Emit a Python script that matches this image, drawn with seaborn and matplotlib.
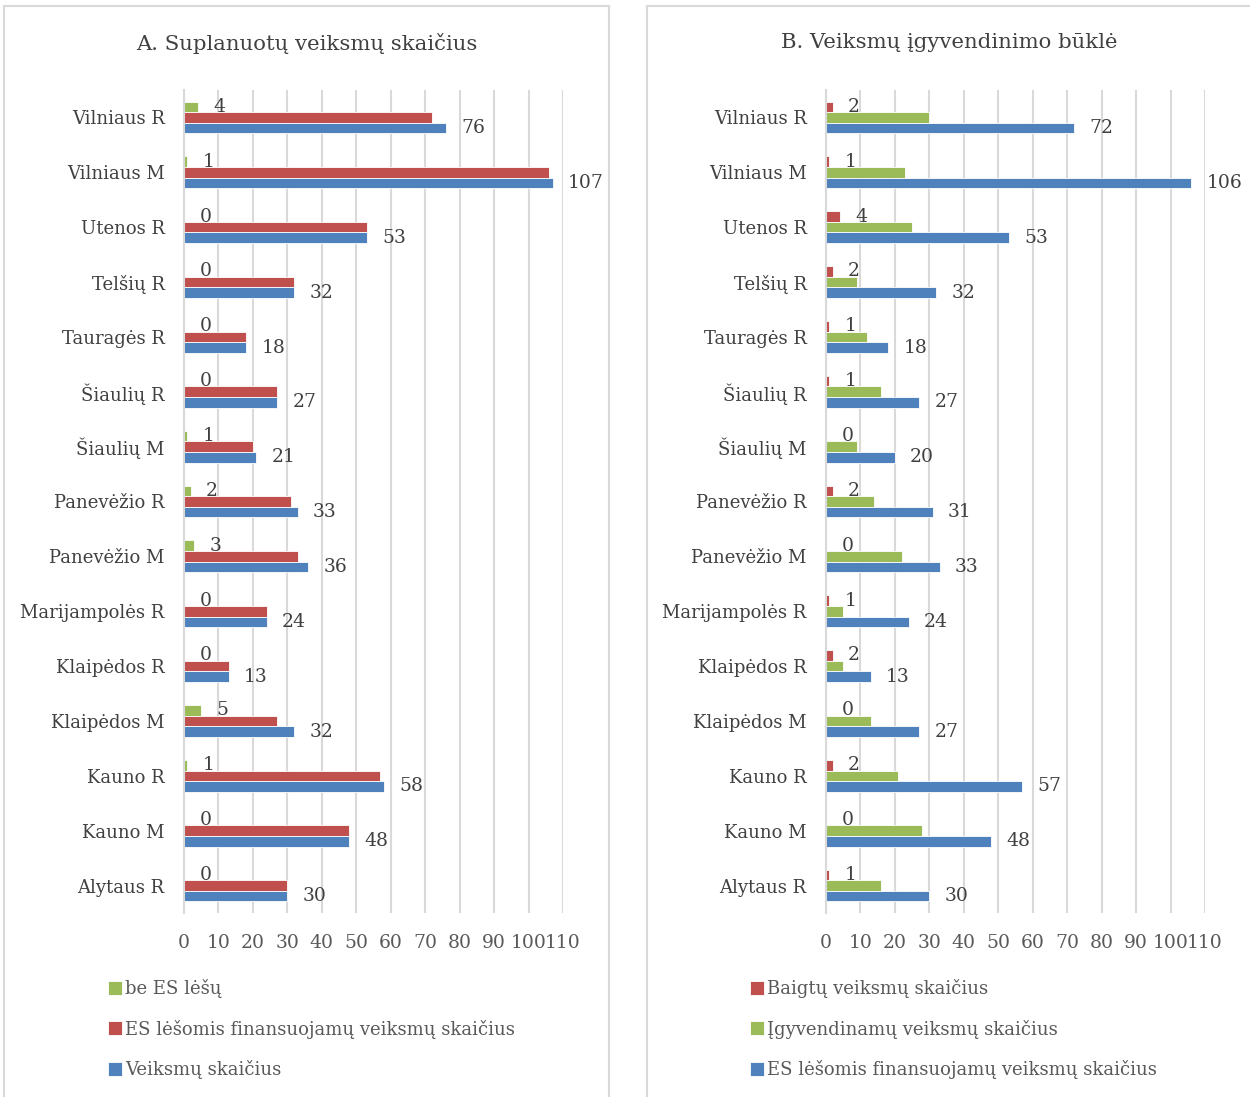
import matplotlib
matplotlib.use("Agg")
import matplotlib.pyplot as plt
import seaborn as sns
import pandas as pd
from matplotlib.patches import Rectangle

# ---- data ----
regions = ["Vilniaus R", "Vilniaus M", "Utenos R", "Telšių R", "Tauragės R",
           "Šiaulių R", "Šiaulių M", "Panevėžio R", "Panevėžio M",
           "Marijampolės R", "Klaipėdos R", "Klaipėdos M", "Kauno R",
           "Kauno M", "Alytaus R"]

# panel A
be_es = [4, 1, 0, 0, 0, 0, 1, 2, 3, 0, 0, 5, 1, 0, 0]
es_finans = [72, 106, 53, 32, 18, 27, 20, 31, 33, 24, 13, 27, 57, 48, 30]
veiksmu = [76, 107, 53, 32, 18, 27, 21, 33, 36, 24, 13, 32, 58, 48, 30]

# panel B
baigtu = [2, 1, 4, 2, 1, 1, 0, 2, 0, 1, 2, 0, 2, 0, 1]
igyvend = [30, 23, 25, 9, 12, 16, 9, 14, 22, 5, 5, 13, 21, 28, 16]
es_finans_b = [72, 106, 53, 32, 18, 27, 20, 31, 33, 24, 13, 27, 57, 48, 30]

series_a = ["be ES lėšų", "ES lėšomis finansuojamų veiksmų skaičius", "Veiksmų skaičius"]
series_b = ["Baigtų veiksmų skaičius", "Įgyvendinamų veiksmų skaičius",
            "ES lėšomis finansuojamų veiksmų skaičius"]
colors_a = ["#9BBB59", "#C0504D", "#4F81BD"]
colors_b = ["#C0504D", "#9BBB59", "#4F81BD"]
titles = ["A. Suplanuotų veiksmų skaičius", "B. Veiksmų įgyvendinimo būklė"]
xticks = list(range(0, 111, 10))

sns.set_theme(style="white")
plt.rcParams["font.family"] = ["DejaVu Serif", "DejaVu Sans"]

W, H = 1250, 1097
fig = plt.figure(figsize=(W / 100, H / 100), dpi=100)


def fx(px):
    return px / W


def fy(py):
    return 1 - py / H


def make_df(cols, names):
    rows = []
    for name, vals in zip(names, cols):
        for r, v in zip(regions, vals):
            rows.append({"region": r, "series": name, "value": v})
    return pd.DataFrame(rows)


panels = [
    dict(df=make_df([be_es, es_finans, veiksmu], series_a), names=series_a,
         colors=colors_a, box=4, left=184, right=563, title_x=307, leg_x=108),
    dict(df=make_df([baigtu, igyvend, es_finans_b], series_b), names=series_b,
         colors=colors_b, box=647, left=826, right=1205, title_x=949, leg_x=750),
]

text_col = "#404040"
tick_col = "#595959"

for i, p in enumerate(panels):
    # panel frame
    fig.patches.append(Rectangle((fx(p["box"]), -0.01), fx(605), fy(6) + 0.01,
                                 transform=fig.transFigure, fill=False,
                                 edgecolor="#D9D9D9", linewidth=1.5, zorder=0))
    ax = fig.add_axes([fx(p["left"]), fy(913), fx(p["right"] - p["left"]), fy(90) - fy(913)])
    sns.barplot(data=p["df"], y="region", x="value", hue="series",
                hue_order=p["names"], order=regions, palette=p["colors"],
                orient="h", width=0.58, gap=0, edgecolor="white", linewidth=0.6,
                saturation=1, ax=ax, legend=True)
    ax.set_xlim(0, 110)
    ax.set_xticks(xticks)
    ax.set_xlabel("")
    ax.set_ylabel("")
    ax.grid(axis="x", color="#D9D9D9", linewidth=1.5)
    ax.grid(axis="y", visible=False)
    ax.set_axisbelow(True)
    for s in ["top", "right", "bottom"]:
        ax.spines[s].set_visible(False)
    ax.spines["left"].set_color("#D9D9D9")
    ax.spines["left"].set_linewidth(1.5)
    ax.tick_params(axis="x", length=0, pad=15, labelsize=13.5, labelcolor=tick_col)
    ax.tick_params(axis="y", length=0, pad=14, labelsize=13, labelcolor=text_col)

    # data labels on first and last series
    for c in [ax.containers[0], ax.containers[-1]]:
        ax.bar_label(c, padding=11, fontsize=13.5, color=text_col)

    handles, labels = ax.get_legend_handles_labels()
    ax.legend_.remove()
    fig.legend(handles, labels, loc="upper left",
               bbox_to_anchor=(fx(p["leg_x"]), fy(979)),
               frameon=False, fontsize=13, handlelength=0.8, handleheight=0.8,
               handletextpad=0.15, labelspacing=1.2, labelcolor=tick_col,
               borderaxespad=0, borderpad=0)

    fig.text(fx(p["title_x"]), fy(43), titles[i], ha="center", va="center",
             fontsize=15.3, color=text_col)

fig.savefig("out.png", dpi=100)
